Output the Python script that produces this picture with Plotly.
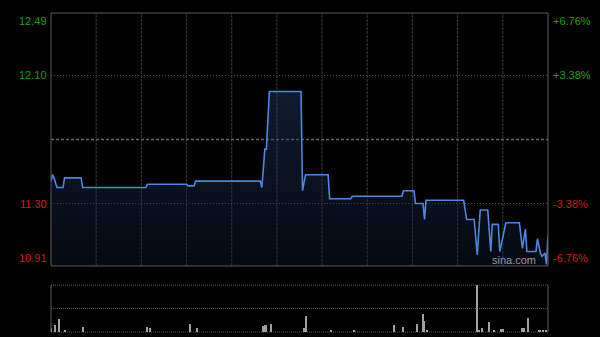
import plotly.graph_objects as go

# ---- data (minute index from 09:30, HK session = 330 minutes) ----
price_min = [0, 1, 2, 4, 8, 9, 20, 21, 63, 64, 90, 91, 95, 96, 139, 140, 142, 143, 145,
             166, 167, 169, 184, 185, 199, 200, 233, 234, 241, 242, 247, 248, 249, 274,
             276, 281, 283, 285, 290, 292, 293, 297, 298, 302, 311, 313, 315, 316, 322,
             323, 325, 326, 328, 329, 330]
price_val = [11.44, 11.48, 11.46, 11.40, 11.40, 11.46, 11.46, 11.40, 11.40, 11.42, 11.42,
             11.41, 11.41, 11.44, 11.44, 11.40, 11.64, 11.64, 12.00, 12.00, 11.38, 11.48,
             11.48, 11.33, 11.33, 11.345, 11.345, 11.38, 11.38, 11.30, 11.30, 11.20, 11.32,
             11.32, 11.20, 11.20, 10.98, 11.26, 11.26, 11.00, 11.17, 11.17, 11.00, 11.18,
             11.18, 11.02, 11.14, 11.00, 11.00, 11.08, 10.99, 10.97, 10.99, 10.92, 11.10]

vol_min = [0, 3, 5, 9, 21, 64, 66, 92, 97, 141, 142, 143, 146, 168, 169, 186, 201, 228,
           234, 243, 247, 248, 250, 283, 284, 286, 291, 294, 299, 300, 313, 314, 317, 324,
           325, 327, 329]
vol_val = [40, 67, 133, 10, 50, 50, 40, 77, 40, 60, 70, 70, 80, 40, 157, 20, 20, 67, 50,
           80, 183, 110, 20, 900, 20, 40, 100, 20, 30, 30, 40, 40, 137, 20, 20, 20, 20]

prev_close = 11.70
left_ticks = [12.49, 12.10, 11.30, 10.91]
left_labels = ["12.49", "12.10", "11.30", "10.91"]
right_labels = ["+6.76%", "+3.38%", "-3.38%", "-6.76%"]
grid_minutes = [30, 60, 90, 120, 150, 180, 210, 240, 270, 300]

GREEN = "#16a016"
RED = "#d01a1a"
FONT = "Liberation Sans, Arial"

fig = go.Figure()
fig.add_trace(go.Scatter(
    x=price_min, y=price_val, mode="lines",
    line=dict(color="#4f86da", width=1.6),
    fill="tozeroy",
    fillgradient=dict(type="vertical", start=10.91, stop=12.0,
                      colorscale=[[0, "rgba(15,28,50,0.35)"], [1, "rgba(40,70,125,0.38)"]]),
    hoverinfo="skip", xaxis="x", yaxis="y"))
fig.add_trace(go.Bar(
    x=vol_min, y=vol_val, width=0.7, marker=dict(color="#a0a0a0", line=dict(width=0)),
    hoverinfo="skip", xaxis="x2", yaxis="y2"))

shapes = []
for m in grid_minutes:
    shapes.append(dict(type="line", xref="x", yref="y domain", x0=m, x1=m, y0=0, y1=1,
                       line=dict(color="#3a3a3a", width=1, dash="3px,1px"), layer="below"))
for v in [12.10, 11.30]:
    shapes.append(dict(type="line", xref="x domain", yref="y", x0=0, x1=1, y0=v, y1=v,
                       line=dict(color="#505050", width=1, dash="1px,2px"), layer="below"))
shapes.append(dict(type="line", xref="x domain", yref="y", x0=0, x1=1, y0=prev_close, y1=prev_close,
                   line=dict(color="#666666", width=1.3, dash="3px,2px"), layer="below"))
shapes.append(dict(type="rect", xref="x domain", yref="y domain", x0=0, x1=1, y0=0, y1=1,
                   line=dict(color="#5a5a5a", width=1), layer="above"))
for yy in [0, 0.5, 1]:
    shapes.append(dict(type="line", xref="x2 domain", yref="y2 domain", x0=0, x1=1, y0=yy, y1=yy,
                       line=dict(color="#5a5a5a", width=1, dash="1px,1px"), layer="below"))
for xx in [0, 1]:
    shapes.append(dict(type="line", xref="x2 domain", yref="y2 domain", x0=xx, x1=xx, y0=0, y1=1,
                       line=dict(color="#5a5a5a", width=1), layer="above"))

annotations = []
for i, (t, l, r) in enumerate(zip(left_ticks, left_labels, right_labels)):
    col = GREEN if t > prev_close else RED
    ya = "top" if i == 0 else ("bottom" if i == len(left_ticks) - 1 else "middle")
    annotations.append(dict(xref="paper", yref="y", x=0, y=t, text=l, showarrow=False,
                            xanchor="right", yanchor=ya, xshift=-2,
                            font=dict(family=FONT, size=11, color=col)))
    annotations.append(dict(xref="paper", yref="y", x=1, y=t, text=r, showarrow=False,
                            xanchor="left", yanchor=ya, xshift=3,
                            font=dict(family=FONT, size=11, color=col)))
annotations.append(dict(xref="paper", yref="y", x=0.979, y=10.91, text="sina.com", showarrow=False,
                        xanchor="right", yanchor="bottom", yshift=-2,
                        font=dict(family=FONT, size=11, color="#9a9a9a")))

fig.update_layout(
    width=600, height=337,
    margin=dict(l=51, r=52, t=13, b=5),
    paper_bgcolor="black", plot_bgcolor="black",
    showlegend=False,
    xaxis=dict(range=[0, 330], visible=False, domain=[0, 1], anchor="y"),
    yaxis=dict(range=[10.91, 12.49], visible=False, domain=[0.207, 1], anchor="x"),
    xaxis2=dict(range=[0, 330], visible=False, domain=[0, 1], anchor="y2", matches="x"),
    yaxis2=dict(range=[0, 470], visible=False, domain=[0, 0.147], anchor="x2"),
    shapes=shapes, annotations=annotations,
    bargap=0,
)
fig.write_html("out.html")
